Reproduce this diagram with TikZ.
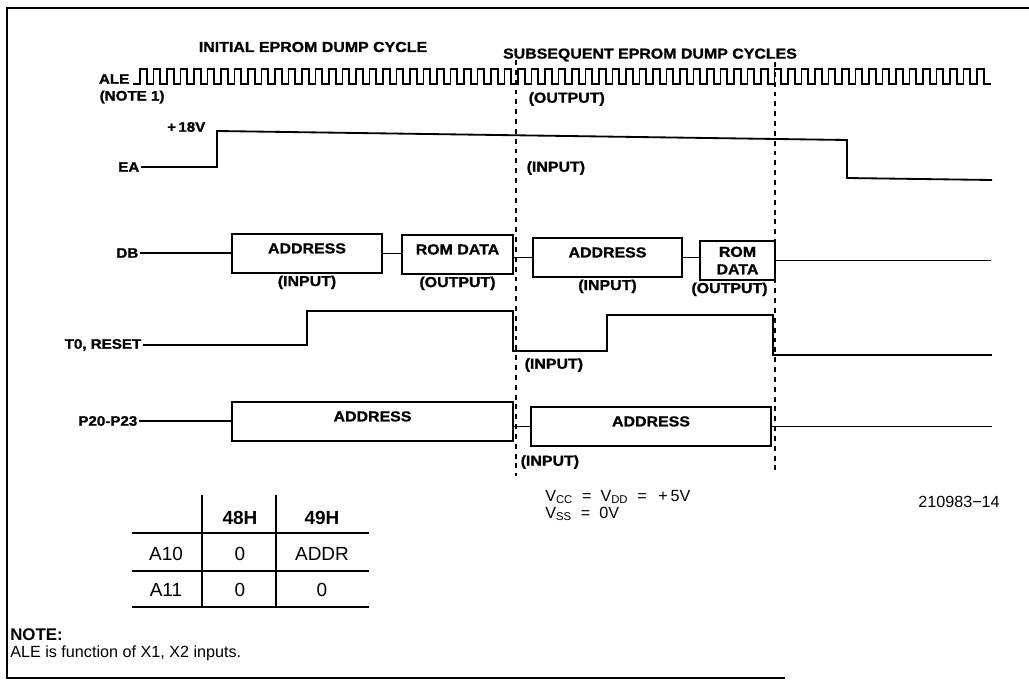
\documentclass[tikz,border=0pt]{standalone}
\usepackage{fontspec}
\setmainfont{Liberation Sans}
\newfontfamily\scanfont{Liberation Sans}[FakeStretch=1.1, BoldFeatures={FakeBold=1.2}]
\usetikzlibrary{positioning,fit}

\begin{document}
\begin{tikzpicture}[x=0.25mm, y=-0.25mm,
  sig/.style={line width=1.3pt},
  lbl/.style={font=\scanfont\bfseries\fontsize{9.8}{11}\selectfont, inner sep=1pt},
  ttl/.style={font=\scanfont\bfseries\fontsize{10.3}{12}\selectfont, inner sep=0pt},
  bus/.style={draw, line width=1.3pt, inner sep=0pt, font=\scanfont\bfseries\fontsize{10.3}{12.4}\selectfont},
  lift/.style={text depth=2.4mm},
  dir/.style={font=\scanfont\bfseries\fontsize{10.3}{12}\selectfont, inner sep=1pt},
  tick/.style={line width=0.9pt, dash pattern=on 3.5pt off 3.5pt},
  cell/.style={font=\fontsize{13.5}{16}\selectfont, inner sep=0pt},
  rule/.style={line width=0.9pt}]
  \useasboundingbox (0,0) rectangle (1029,688);
  \draw[line width=1.1pt] (1029,8) -- (7,8) -- (7,678) -- (785,678);

  % cycle titles
  \node[ttl] (initcyc) at (313,47) {INITIAL EPROM DUMP CYCLE};
  \node[ttl] (subcyc) at (650,55) {SUBSEQUENT EPROM DUMP CYCLES};

  % ALE clock
  \node[lbl, anchor=east] (ale) at (131,79) {ALE};
  \node[lbl, anchor=west] (note1) at (98,97) {(NOTE 1)};
  \draw[sig] (133,84) -- (140,84)
    foreach \i in {1,...,63} { -- ++(0,-15) -- ++(6.75,0) -- ++(0,15) -- ++(6.75,0) };
  \node[dir, anchor=west] (aleout) at (527,99) {(OUTPUT)};

  % cycle boundaries
  \draw[tick] (516,60) -- (516,476);
  \draw[tick] (775,62) -- (775,472);

  % EA
  \node[lbl, anchor=east] (ea) at (141,167) {EA};
  \node[lbl, anchor=east] (v18) at (207,127) {+\,18V};
  \draw[sig] (ea.east) -- (217,167) -- (217,131) -- (847,140) -- (847,178) -- (992,180);
  \node[dir, anchor=west] (eain) at (525,168) {(INPUT)};

  % DB
  \node[lbl, anchor=east] (db) at (140,253) {DB};
  \node[bus, lift, fit={(232,234) (382,273)}] (dbadr1) {ADDRESS};
  \node[bus, lift, fit={(402,235) (513,274)}] (dbrom1) {ROM DATA};
  \node[bus, lift, fit={(533,238) (682,277)}] (dbadr2) {ADDRESS};
  \node[bus, fit={(700,241) (775,280)}] (dbrom2) {};
  \node[bus, draw=none, align=center] (dbrom2t) at (dbrom2) {ROM\\DATA};
  \draw[sig] (db.east) -- (db.east -| dbadr1.west);
  \draw[sig] (dbadr1.east) -- (dbadr1.east -| dbrom1.west);
  \draw[sig] (dbrom1.east |- dbadr2.west) -- (dbadr2.west);
  \draw[sig] (dbadr2.east) -- (dbadr2.east -| dbrom2.west);
  \draw[sig] (dbrom2.east) -- ++(215,0);
  \node[dir, below=0pt of dbadr1] (dbin1) {(INPUT)};
  \node[dir, below=0pt of dbrom1] (dbout1) {(OUTPUT)};
  \node[dir, below=0pt of dbadr2] (dbin2) {(INPUT)};
  \node[dir, below=0pt of dbrom2, xshift=-2mm] (dbout2) {(OUTPUT)};

  % T0, RESET
  \node[lbl, anchor=east] (t0) at (143,345) {T0, RESET};
  \draw[sig] (t0.east) -- (307,345) -- (307,311) -- (513,311) -- (513,351) -- (607,351)
    -- (607,315) -- (773,315) -- (773,355) -- (992,355);
  \node[dir, anchor=west] (t0in) at (523,365) {(INPUT)};

  % P20-P23
  \node[lbl, anchor=east] (p2x) at (139,421) {P20-P23};
  \node[bus, lift, fit={(232,402) (513,441)}] (padr1) {ADDRESS};
  \node[bus, lift, fit={(531,407) (771,446)}] (padr2) {ADDRESS};
  \draw[sig] (p2x.east) -- (p2x.east -| padr1.west);
  \draw[sig] (padr1.east |- padr2.west) -- (padr2.west);
  \draw[sig] (padr2.east) -- ++(220,0);
  \node[dir, anchor=west] (pin) at (519,462) {(INPUT)};

  % address table
  \foreach \y in {533,571,607} \draw[rule] (132,\y) -- (369,\y);
  \draw[rule] (202,495) -- (202,607);
  \draw[rule] (276,495) -- (276,607);
  \node[cell] (h48) at (240,518) {\bfseries 48H};
  \node[cell] (h49) at (322,518) {\bfseries 49H};
  \node[cell] (a10) at (166,554) {A10};
  \node[cell] (a10v1) at (240,554) {0};
  \node[cell] (a10v2) at (322,554) {ADDR};
  \node[cell] (a11) at (166,590) {A11};
  \node[cell] (a11v1) at (240,590) {0};
  \node[cell] (a11v2) at (322,590) {0};

  % supplies, figure number, note
  \node[anchor=base west, align=left, inner sep=0pt, font=\fontsize{11.5}{12}\selectfont] (supply) at (545,518)
    {V\textsubscript{CC}\ \ =\ \ V\textsubscript{DD}\ \ =\ \ \,+\,5V\\V\textsubscript{SS}\ \ =\ \ 0V};
  \node[anchor=east, inner sep=0pt, font=\fontsize{11.5}{13}\selectfont] (figno) at (1000,502) {210983−14};
  \node[anchor=west, inner sep=0pt, font=\bfseries\fontsize{12}{14}\selectfont] (notehd) at (10,635) {NOTE:};
  \node[anchor=west, inner sep=0pt, font=\fontsize{11.5}{14}\selectfont] (notetx) at (10,653) {ALE is function of X1, X2 inputs.};
\end{tikzpicture}
\end{document}
